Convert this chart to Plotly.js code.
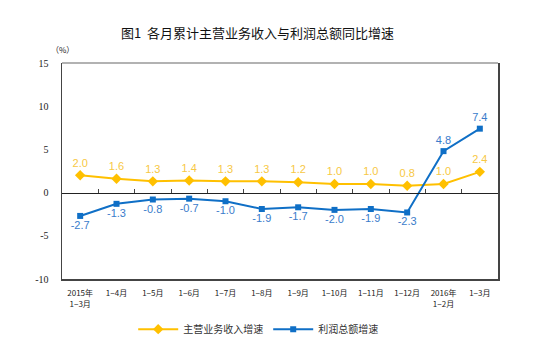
<!DOCTYPE html>
<html><head><meta charset="utf-8">
<script src="https://cdn.plot.ly/plotly-3.0.1.min.js"></script>
<style>body{margin:0;background:#fff}#c{width:554px;height:357px}</style>
</head><body><div id="c"></div>
<script>
const categories = ["2015年<br>1−3月","1−4月","1−5月","1−6月","1−7月","1−8月","1−9月","1−10月","1−11月","1−12月","2016年<br>1−2月","1−3月"];
const revenueGrowth = [2.0,1.6,1.3,1.4,1.3,1.3,1.2,1.0,1.0,0.8,1.0,2.4];
const profitGrowth = [-2.7,-1.3,-0.8,-0.7,-1.0,-1.9,-1.7,-2.0,-1.9,-2.3,4.8,7.4];
const yTicks = [-10,-5,0,5,10,15];

const idx = categories.map((_, i) => i);
const profitPos = profitGrowth.map(v => v > 0 ? "top center" : "bottom center");

const traces = [
  {x: idx, y: revenueGrowth, name: "主营业务收入增速", type: "scatter", mode: "lines+markers+text",
   line: {color: "#FFC000", width: 2}, marker: {symbol: "diamond", size: 8, color: "#FFC000"},
   text: revenueGrowth.map(v => v.toFixed(1)), textposition: "top center",
   textfont: {family: "Liberation Sans, Arial", size: 11, color: "#F7C844"}, cliponaxis: false},
  {x: idx, y: profitGrowth, name: "利润总额增速", type: "scatter", mode: "lines+markers+text",
   line: {color: "#0F6FC6", width: 2}, marker: {symbol: "square", size: 6, color: "#0F6FC6"},
   text: profitGrowth.map(v => v.toFixed(1)), textposition: profitPos,
   textfont: {family: "Liberation Sans, Arial", size: 11, color: "#3A7CCB"}, cliponaxis: false},
  {x: idx, y: revenueGrowth, xaxis: "x2", type: "scatter", mode: "none", showlegend: false, hoverinfo: "skip"}
];

const layout = {
  width: 554, height: 357,
  margin: {l: 62, r: 56, t: 63, b: 78, autoexpand: false},
  paper_bgcolor: "#fff", plot_bgcolor: "#fff",
  title: {text: "图1  各月累计主营业务收入与利润总额同比增速", x: 0.465, xanchor: "center", y: 0.905, yanchor: "middle",
          font: {family: "Noto Sans CJK SC", size: 13, color: "#111"}},
  showlegend: true,
  legend: {orientation: "h", x: 0.45, xanchor: "center", y: -0.165, yanchor: "top",
           font: {family: "Noto Sans CJK SC", size: 10, color: "#333"}, itemwidth: 40, tracegroupgap: 0},
  xaxis: {range: [-0.5, 11.5], tickmode: "array", tickvals: idx, ticktext: categories,
          showgrid: false, zeroline: false, showline: true, linecolor: "#444", linewidth: 1.5,
          ticks: "", ticklabelstandoff: 6, tickfont: {family: "Noto Sans CJK SC", size: 8, color: "#222"}},
  xaxis2: {range: [-0.5, 11.5], overlaying: "x", anchor: "free", position: 0.4, side: "top",
           tickmode: "array", tickvals: idx.slice(0, -1).map(v => v + 0.5), showticklabels: false,
           ticks: "outside", ticklen: 4, tickcolor: "#444", showline: true, linecolor: "#222", linewidth: 1,
           showgrid: false, zeroline: false},
  yaxis: {range: [-10, 15], tickmode: "array", tickvals: yTicks, ticktext: yTicks.map(String),
          showgrid: false, zeroline: false, showline: true, mirror: true, linecolor: "#444", linewidth: 1.5,
          ticks: "", ticklabelstandoff: 10, tickfont: {family: "Liberation Serif", size: 10, color: "#222"}},
  shapes: [{type: "line", xref: "paper", yref: "paper", x0: 0, x1: 1, y0: 1, y1: 1, line: {color: "#999", width: 1.5}}],
  annotations: [{text: "（%）", xref: "paper", yref: "paper", x: -0.03, y: 1.03, xanchor: "left", yanchor: "bottom",
                 showarrow: false, font: {family: "Noto Sans CJK SC", size: 8, color: "#222"}}]
};
Plotly.newPlot("c", traces, layout, {displayModeBar: false, staticPlot: true});
</script></body></html>
